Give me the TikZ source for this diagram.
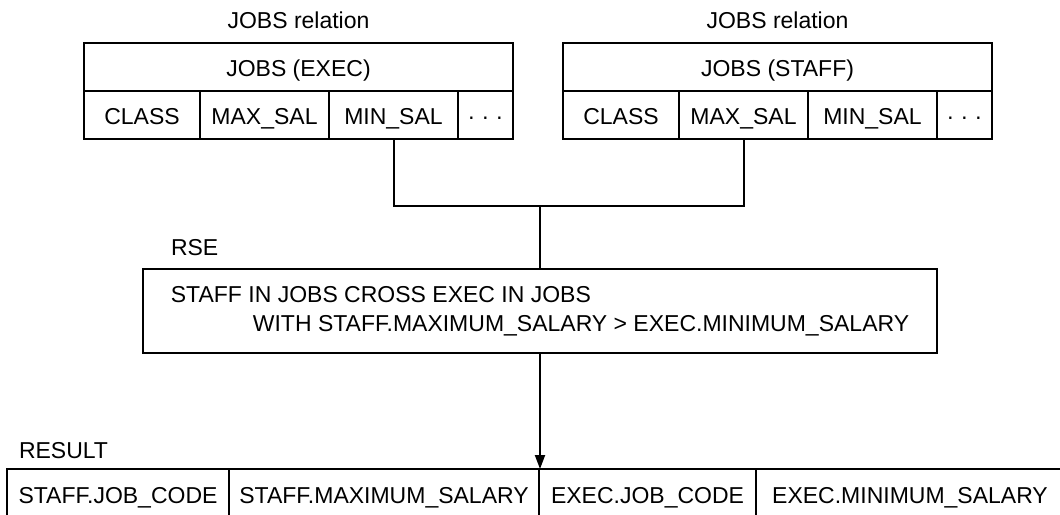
\documentclass[tikz,border=0pt]{standalone}
\usepackage{fontspec}
\setmainfont{Liberation Sans}
\usetikzlibrary{positioning,arrows.meta}

\begin{document}
\begin{tikzpicture}[x=0.5pt, y=-0.5pt, line width=1pt,
    every node/.style = {font=\fontsize{11.5}{14.5}\selectfont},
    cell/.style = {draw, inner sep=0pt, outer sep=0pt, minimum height=24pt,
      text height=0.95em, text depth=0pt},
    caption/.style = {inner sep=0pt, anchor=base west}]
  \useasboundingbox (0,0) rectangle (1060,514);
  \clip (0,0) rectangle (1060,514);
  % the two copies of JOBS
  \foreach \t/\x/\T in {exec/298.5/EXEC, staff/777.5/STAFF} {
    \node[cell, minimum width=214.5pt,
      label={[label distance=3.5pt]above:JOBS relation}] (\t-hd) at (\x,67) {JOBS (\T)};
    \node[cell, minimum width=58pt, anchor=north west] (\t-class) at (\t-hd.south west) {CLASS};
    \node[cell, minimum width=64.5pt, right=0pt of \t-class] (\t-max) {MAX\_SAL};
    \node[cell, minimum width=64.5pt, right=0pt of \t-max] (\t-min) {MIN\_SAL};
    \node[cell, minimum width=27.5pt, right=0pt of \t-min] (\t-dots) {· · ·};
  }
  % record selection expression
  \node[caption] (rse-cap) at (170,255) {RSE};
  \node[draw, minimum width=397pt, minimum height=42pt, align=left] (rse) at (540,311)
    {STAFF IN JOBS CROSS EXEC IN JOBS\\
     \hspace*{41pt}WITH STAFF.MAXIMUM\_SALARY > EXEC.MINIMUM\_SALARY};
  \coordinate (join) at (rse.north |- 0,206);
  \draw (exec-min.south) |- (join) -| (staff-max.south);
  \draw (join) -- (rse.north);
  % result, cut off at the bottom edge
  \node[caption] (res-cap) at (18,458) {RESULT};
  \node[cell, minimum width=111pt, minimum height=25pt, anchor=north west] (res1) at (7,469) {STAFF.JOB\_CODE};
  \node[cell, minimum width=155pt, minimum height=25pt, right=0pt of res1] (res2) {STAFF.MAXIMUM\_SALARY};
  \node[cell, minimum width=108.5pt, minimum height=25pt, right=0pt of res2] (res3) {EXEC.JOB\_CODE};
  \node[cell, minimum width=154pt, minimum height=25pt, right=0pt of res3] (res4) {EXEC.MINIMUM\_SALARY};
  \draw[-{Triangle[length=7pt, width=5pt]}] (rse.south) -- (rse.south |- res2.north east);
\end{tikzpicture}
\end{document}
